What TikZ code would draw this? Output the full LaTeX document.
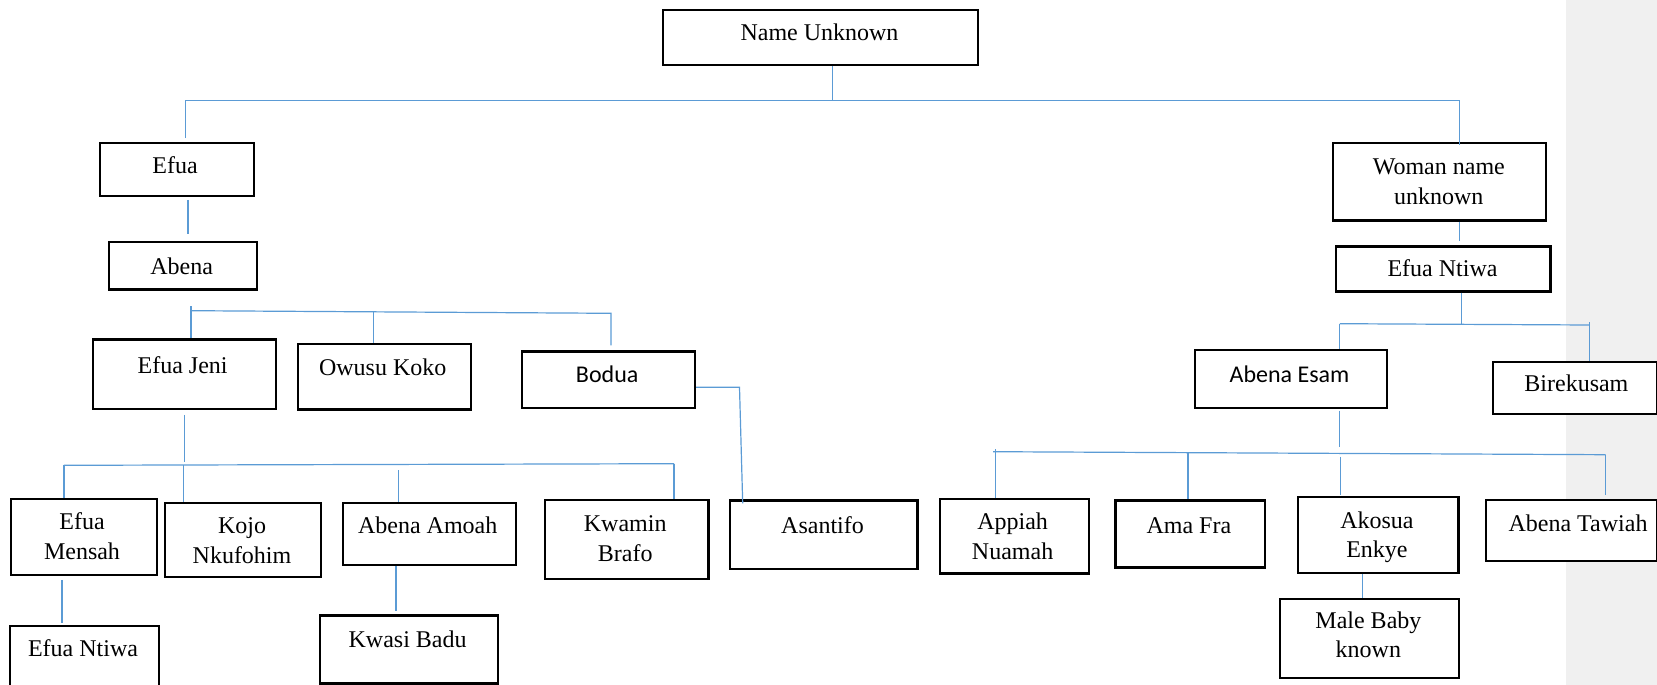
\documentclass[tikz,border=0pt]{standalone}
\usepackage{fontspec}
\setmainfont{Liberation Serif}
\newfontfamily\carlito{Carlito}
\definecolor{linkblue}{RGB}{91,155,213}
\definecolor{panelgray}{RGB}{240,240,240}
\newcommand\famBox[5]{\node[box,anchor=north west,minimum width={(#4-#2)*1pt},minimum height={(#5-#3)*1pt}] (#1) at (#2,#3) {};}
\begin{document}
\begin{tikzpicture}[x=1pt,y=-1pt,
  box/.style={draw=black,fill=white,line width=2.2pt,inner sep=0pt},
  txt/.style={font=\fontsize{24}{29.5}\selectfont,align=center,anchor=base,inner sep=0pt},
  link/.style={draw=linkblue,line width=1.2pt}]
\useasboundingbox (0,0) rectangle (1657,685);
\clip (0,0) rectangle (1657,685);
\fill[panelgray] (1566,0) rectangle (1657,685);

% ---------- connector junctions ----------
\coordinate (b0l) at (185.8,100.7);
\coordinate (b0r) at (1459.4,100.7);
\coordinate (b0m) at (832.6,100.7);
\coordinate (b1l) at (191,310.7);
\coordinate (b1m) at (373.2,312);
\coordinate (b1r) at (611,313.3);
\coordinate (bd1) at (739.5,387.3);
\coordinate (b2l) at (64,465.3);
\coordinate (b2a) at (183.2,465);
\coordinate (b2b) at (398.6,470);
\coordinate (b2r) at (674,463.7);
\coordinate (b3l) at (1339.8,323.7);
\coordinate (b3r) at (1589.7,325);
\coordinate (b4l) at (995.7,451.7);
\coordinate (b4a) at (1187.9,452.5);
\coordinate (b4b) at (1340.3,456.7);
\coordinate (b4r) at (1605.5,454.7);

% ---------- boxes ----------
\famBox{nu}{662}{9}{977}{64}
\famBox{efua}{98.5}{142}{252.5}{194.7}
\famBox{abena}{108}{240.7}{256.2}{288.3}
\famBox{jeni}{91.6}{338.3}{274.8}{408}
\famBox{owusu}{296.5}{342.7}{470}{408.3}
\famBox{bodua}{521}{350.3}{694}{406.7}
\famBox{mensah}{10}{497.7}{156.2}{573.7}
\famBox{kojo}{163.6}{502}{319.8}{575.7}
\famBox{amoah}{341.5}{502}{514.6}{563.7}
\famBox{kwamin}{544.2}{499}{707.3}{577.7}
\famBox{asantifo}{729}{499.3}{916.3}{567.7}
\famBox{ntiwaL}{9}{625}{157.8}{700}
\famBox{badu}{318.7}{614.3}{496.6}{682.3}
\famBox{woman}{1331.9}{142}{1544.7}{219.3}
\famBox{ntiwaR}{1335}{245.3}{1549.4}{290.3}
\famBox{esam}{1194.2}{349}{1385.9}{406.7}
\famBox{birek}{1491.7}{360.7}{1656}{412.7}
\famBox{appiah}{938.5}{497.7}{1087.8}{572.3}
\famBox{amafra}{1114.3}{499.3}{1264.1}{566.3}
\famBox{akosua}{1296.9}{496}{1457.3}{571.7}
\famBox{tawiah}{1484.8}{499}{1656}{559.7}
\famBox{baby}{1278.9}{597.7}{1457.8}{676.7}

% ---------- texts (base anchor = baseline of the last line) ----------
\node[txt] (nu-t) at (819.5,40.5) {Name Unknown};
\node[txt] (efua-t) at (175,173.3) {Efua};
\node[txt] (abena-t) at (181.6,274.3) {Abena};
\node[txt] (jeni-t) at (182.6,373.3) {Efua Jeni};
\node[txt] (owusu-t) at (382.7,375) {Owusu Koko};
\node[txt,font=\carlito\fontsize{24}{29.5}\selectfont] (bodua-t) at (607.2,382) {Bodua};
\node[txt] (mensah-t) at (82,559) {Efua\\Mensah};
\node[txt] (kojo-t) at (242,563.3) {Kojo\\Nkufohim};
\node[txt] (amoah-t) at (427.7,533.3) {Abena Amoah};
\node[txt] (kwamin-t) at (625.2,561) {Kwamin\\Brafo};
\node[txt] (asantifo-t) at (822.5,533.3) {Asantifo};
\node[txt] (ntiwaL-t) at (83,656.6) {Efua Ntiwa};
\node[txt] (badu-t) at (407.6,647.6) {Kwasi Badu};
\node[txt] (woman-t) at (1438.8,204.3) {Woman name\\unknown};
\node[txt] (ntiwaR-t) at (1442.5,276.6) {Efua Ntiwa};
\node[txt,font=\carlito\fontsize{24}{29.5}\selectfont] (esam-t) at (1289.5,382) {Abena Esam};
\node[txt] (birek-t) at (1576.4,391.6) {Birekusam};
\node[txt] (appiah-t) at (1012.6,559) {Appiah\\Nuamah};
\node[txt] (amafra-t) at (1188.9,533.3) {Ama Fra};
\node[txt] (akosua-t) at (1376.9,557.6) {Akosua\\Enkye};
\node[txt] (tawiah-t) at (1578,531) {Abena Tawiah};
\node[txt] (baby-t) at (1368.4,657.6) {Male Baby\\known};

% ---------- connector drawing ----------
\draw[link] (nu.south -| b0m) -- (b0m);
\draw[link] (efua.north -| b0l) ++(0,-4) -- (b0l) -- (b0r) -- ([yshift=-3pt]woman.north -| b0r);
\draw[link] ([yshift=-3pt]efua.south -| 188,0) -- ([yshift=7pt]abena.north -| 188,0);
\draw[link] (b1l) ++(0,-4.4) -- (jeni.north -| b1l);
\draw[link] (b1l) -- (b1r) -- ([yshift=5pt]bodua.north -| b1r);
\draw[link] (b1m) -- (owusu.north -| b1m);
\draw[link] (bodua.east |- bd1) -- (bd1) -- ([yshift=-4pt]asantifo.north -| 742.7,0);
\draw[link] ([yshift=-4.7pt]jeni.south -| 184.2,0) -- (184.2,461.7);
\draw[link] (b2l) -- (b2r);
\draw[link] (b2l) -- (mensah.north -| b2l);
\draw[link] (b2a) -- (kojo.north -| b2a);
\draw[link] (b2b) -- (amoah.north -| b2b);
\draw[link] (b2r) -- (kwamin.north -| b2r);
\draw[link] ([yshift=-4pt]mensah.south -| 62,0) -- ([yshift=1.7pt]ntiwaL.north -| 62,0);
\draw[link] (amoah.south -| 396,0) -- ([yshift=3.6pt]badu.north -| 396,0);
\draw[link] (woman.south -| b0r) -- ([yshift=4.6pt]ntiwaR.north -| b0r);
\draw[link] (ntiwaR.south -| 1461.6,0) -- (1461.6,323.7);
\draw[link] (b3l) -- (b3r);
\draw[link] (b3l) -- (esam.north -| b3l);
\draw[link] (b3r) ++(0,-3) -- (birek.north -| b3r);
\draw[link] ([yshift=-1.6pt]esam.south -| 1339.3,0) -- (1339.3,446.7);
\draw[link] (b4l) ++(-2.7,0) -- (b4r);
\draw[link] (b4l) ++(0,-2.4) -- (appiah.north -| b4l);
\draw[link] (b4a) -- (amafra.north -| b4a);
\draw[link] (b4b) -- ([yshift=0.7pt]akosua.north -| b4b);
\draw[link] (b4r) -- ([yshift=4pt]tawiah.north -| b4r);
\draw[link] (akosua.south -| 1362.6,0) -- (baby.north -| 1362.6,0);
\end{tikzpicture}
\end{document}
